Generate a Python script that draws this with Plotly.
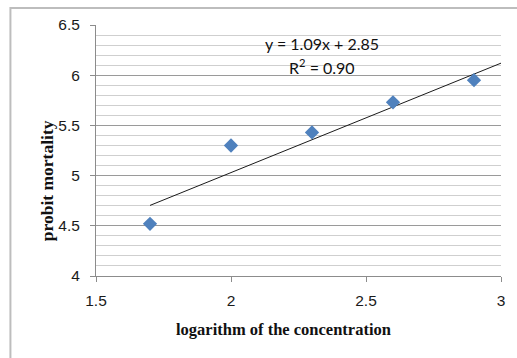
import plotly.graph_objects as go

log_conc = [1.7, 2.0, 2.3, 2.6, 2.9]
probit = [4.52, 5.30, 5.43, 5.73, 5.95]
slope = 1.09
intercept = 2.85
trend_x = [1.7, 3.0]
trend_y = [slope * v + intercept for v in trend_x]

W, H = 517, 358
L, R, T, B = 96, 14, 25, 82

fig = go.Figure()
fig.add_trace(go.Scatter(x=trend_x, y=trend_y, mode="lines",
                         line=dict(color="#1a1a1a", width=1), showlegend=False, hoverinfo="skip"))
fig.add_trace(go.Scatter(x=log_conc, y=probit, mode="markers",
                         marker=dict(symbol="diamond", size=11, color="#4F81BD"), showlegend=False))

tickfont = dict(family="Liberation Sans, Arial", size=15.5, color="#1a1a1a")
fig.update_xaxes(range=[1.5, 3.0], dtick=0.5, tick0=1.5, showgrid=False, zeroline=False,
                 showline=True, linecolor="#8c8c8c", linewidth=1,
                 ticks="outside", ticklen=5, tickcolor="#8c8c8c", tickfont=tickfont,
                 ticklabelstandoff=5)
fig.update_yaxes(range=[4.0, 6.5], dtick=0.5, tick0=4, showgrid=True, gridcolor="#9a9a9a", gridwidth=1,
                 zeroline=False, showline=True, linecolor="#8c8c8c", linewidth=1,
                 ticks="outside", ticklen=5, tickcolor="#8c8c8c", tickfont=tickfont,
                 ticklabelstandoff=7,
                 minor=dict(dtick=0.1, showgrid=True, gridcolor="#cfcfcf", gridwidth=1, ticks=""))

pw = W - L - R
ph = H - T - B
# chart frame (only top and left edges fall inside the picture)
fx0 = (10 - L) / pw
fy1 = 1 + (T - 8) / ph
fig.add_shape(type="rect", xref="paper", yref="paper", x0=fx0, x1=1 + 40 / pw,
              y0=-(B + 40) / ph, y1=fy1, line=dict(color="#bdbdbd", width=2), layer="below")

def px_x(v):
    return (v - L) / pw

def px_y(v):
    return 1 - (v - T) / ph

ann = dict(xref="paper", yref="paper", showarrow=False, xanchor="center", yanchor="middle")
fig.add_annotation(text="y = 1.09x + 2.85", x=px_x(323), y=px_y(43),
                   font=dict(family="Lato, Carlito, sans-serif", size=16, color="#111"), **ann)
fig.add_annotation(text="R<sup>2</sup> = 0.90", x=px_x(323), y=px_y(66),
                   font=dict(family="Lato, Carlito, sans-serif", size=16, color="#111"), **ann)
fig.add_annotation(text="<b>logarithm of the concentration</b>", x=px_x(284), y=px_y(329),
                   font=dict(family="Liberation Serif, Times New Roman", size=16.5, color="#111"), **ann)
fig.add_annotation(text="<b>probit mortality</b>", x=px_x(47), y=px_y(181), textangle=-90,
                   font=dict(family="Liberation Serif, Times New Roman", size=17.5, color="#111"), **ann)

fig.update_layout(width=W, height=H, margin=dict(l=L, r=R, t=T, b=B),
                  paper_bgcolor="white", plot_bgcolor="white")
fig.write_html("out.html")
